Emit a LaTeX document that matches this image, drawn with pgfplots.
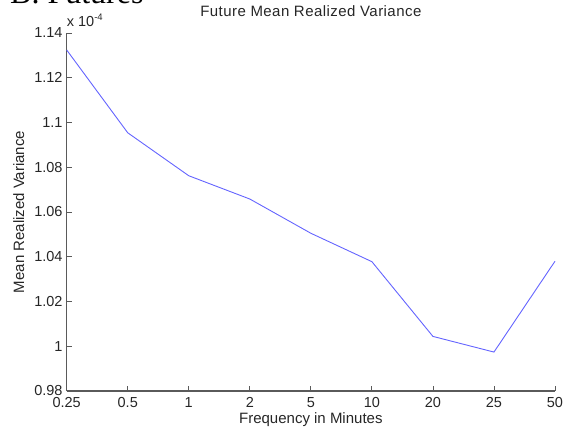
\documentclass[border=0pt]{standalone}
\usepackage{pgfplots}
\pgfplotsset{compat=1.18}
\usepackage{fontspec}
\setmainfont{Liberation Sans}
\newfontfamily\serifB{Liberation Serif}
\newfontfamily\titlefont[LetterSpace=3]{Liberation Sans}
\definecolor{axgray}{RGB}{90,90,90}
\definecolor{mblue}{RGB}{100,100,255}
\newcommand{\fs}{\fontsize{14.5}{15}\selectfont}
\newcommand{\fl}{\fontsize{15}{16}\selectfont}
\begin{document}
\begin{tikzpicture}[x=1pt,y=1pt]
\useasboundingbox (0,0) rectangle (567,428);
\node[anchor=base west,inner sep=0pt,font=\serifB\fontsize{32}{32}\selectfont] at (10,424) {B. Futures};
\begin{axis}[
  at={(66.7pt,37pt)}, anchor=south west,
  scale only axis, width=488.3pt, height=358pt,
  xmin=0, xmax=8, ymin=0.98, ymax=1.14,
  axis x line=bottom, axis y line=left,
  axis line style={axgray, line width=1.1pt, -},
  tick style={axgray, line width=0.8pt},
  tick align=inside,
  major tick length=5pt,
  xtick={0,1,2,3,4,5,6,7,8},
  xticklabels={0.25,0.5,1,2,5,10,20,25,50},
  ytick={0.98,1.0,1.02,1.04,1.06,1.08,1.1,1.12,1.14},
  yticklabels={0.98,1,1.02,1.04,1.06,1.08,1.1,1.12,1.14},
  ticklabel style={font=\fs, text=black!85},
  xticklabel style={inner sep=0pt, yshift=-6pt},
  yticklabel style={inner sep=0pt, xshift=-4pt},
  label style={font=\fl, text=black!85},
  xlabel={Frequency in Minutes},
  ylabel={Mean Realized Variance},
  xlabel style={at={(rel axis cs:0.5,0)}, anchor=base, yshift=-32pt, inner sep=0pt},
  ylabel style={at={(rel axis cs:0,0.5)}, anchor=center, yshift=48pt, inner sep=0pt},
  title={Future Mean Realized Variance},
  title style={font=\titlefont\fl, text=black!85, at={(rel axis cs:0.5,1)}, anchor=base, yshift=10pt, inner sep=0pt},
  clip=false,
]
\addplot[mblue, line width=0.9pt] coordinates {
  (0,1.1324) (1,1.0954) (2,1.0762) (3,1.0658) (4,1.0505)
  (5,1.0378) (6,1.0044) (7,0.9974) (8,1.0380)
};
\node[anchor=base west, inner sep=0pt, font=\fs, text=black!85] at (rel axis cs:0,1) [yshift=6pt] {x 10\raisebox{6pt}{\fontsize{9.5}{10}\selectfont -4}};
\end{axis}
\end{tikzpicture}
\end{document}
